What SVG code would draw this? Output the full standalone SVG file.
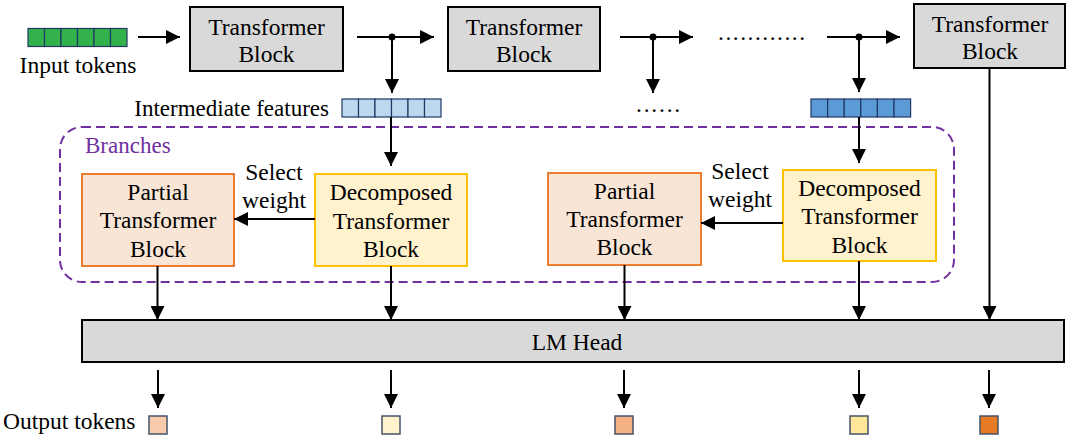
<svg xmlns="http://www.w3.org/2000/svg" width="1080" height="446" viewBox="0 0 1080 446">
<defs>
<marker id="ah" viewBox="0 0 14 14" refX="14" refY="7" markerWidth="14" markerHeight="14" markerUnits="userSpaceOnUse" orient="auto">
<path d="M0,0 L14,7 L0,14 z" fill="#000"/>
</marker>
<style>
text{font-family:"Liberation Serif","Times New Roman",serif;font-size:23.5px;fill:#000}
.c{text-anchor:middle}
.tb{fill:#d9d9d9;stroke:#000;stroke-width:2}
.pb{fill:#f8e5d6;stroke:#ed7d31;stroke-width:2}
.db{fill:#fff2cc;stroke:#ffc000;stroke-width:2}
.ln{stroke:#000;stroke-width:2;fill:none}
.ar{stroke:#000;stroke-width:2;fill:none;marker-end:url(#ah)}
.cell{stroke:#203864;stroke-width:1.2}
.sq{stroke:#44546a;stroke-width:1.5}
</style>
</defs>
<rect width="1080" height="446" fill="#fff"/>

<g id="input-tokens">
<g class="cell" fill="#33b14b">
<rect x="28" y="28.5" width="16.5" height="18"/><rect x="44.5" y="28.5" width="16.5" height="18"/><rect x="61" y="28.5" width="16.5" height="18"/><rect x="77.5" y="28.5" width="16.5" height="18"/><rect x="94" y="28.5" width="16.5" height="18"/><rect x="110.5" y="28.5" width="16.5" height="18"/>
</g>
<text x="78" y="73" class="c">Input tokens</text>
</g>

<g id="tb1"><rect class="tb" x="190" y="7" width="153" height="64"/><text x="266.5" y="34.5" class="c">Transformer</text><text x="266.5" y="62" class="c">Block</text></g>
<g id="tb2"><rect class="tb" x="448" y="7" width="152" height="64"/><text x="524" y="34.5" class="c">Transformer</text><text x="524" y="62" class="c">Block</text></g>
<g id="tb3"><rect class="tb" x="914" y="4" width="151" height="64"/><text x="990" y="31.5" class="c">Transformer</text><text x="990" y="58.5" class="c">Block</text></g>

<g id="dots">
<text x="718" y="40" letter-spacing="1.5">............</text>
<text x="636" y="112" letter-spacing="1.8">......</text>
</g>

<g id="features1">
<text x="329" y="116" text-anchor="end" style="font-size:23px">Intermediate features</text>
<g class="cell" fill="#bdd7ee">
<rect x="342" y="99" width="16.5" height="18"/><rect x="358.5" y="99" width="16.5" height="18"/><rect x="375" y="99" width="16.5" height="18"/><rect x="391.5" y="99" width="16.5" height="18"/><rect x="408" y="99" width="16.5" height="18"/><rect x="424.5" y="99" width="16.5" height="18"/>
</g>
</g>
<g id="features2">
<g class="cell" fill="#5b9bd5">
<rect x="811" y="99" width="16.6" height="18"/><rect x="827.6" y="99" width="16.6" height="18"/><rect x="844.2" y="99" width="16.6" height="18"/><rect x="860.8" y="99" width="16.6" height="18"/><rect x="877.4" y="99" width="16.6" height="18"/><rect x="894" y="99" width="16.6" height="18"/>
</g>
</g>

<g id="branches">
<rect x="60" y="127" width="894" height="155" rx="22" ry="22" fill="none" stroke="#7030a0" stroke-width="2" stroke-dasharray="9,5"/>
<text x="85" y="153" style="fill:#7030a0;font-size:23px">Branches</text>
</g>

<g id="partial1"><rect class="pb" x="82" y="174" width="152" height="92"/><text x="158" y="199.5" class="c">Partial</text><text x="158" y="228" class="c">Transformer</text><text x="158" y="256.5" class="c">Block</text></g>
<g id="decomp1"><rect class="db" x="315" y="174" width="152" height="92"/><text x="391" y="200" class="c">Decomposed</text><text x="391" y="228.5" class="c">Transformer</text><text x="391" y="257" class="c">Block</text></g>
<g id="partial2"><rect class="pb" x="548" y="173" width="153" height="92"/><text x="624.5" y="198.5" class="c">Partial</text><text x="624.5" y="227" class="c">Transformer</text><text x="624.5" y="255" class="c">Block</text></g>
<g id="decomp2"><rect class="db" x="783" y="170" width="153" height="91"/><text x="859.5" y="195.5" class="c">Decomposed</text><text x="859.5" y="224" class="c">Transformer</text><text x="859.5" y="252.5" class="c">Block</text></g>

<g id="sel1"><text x="274" y="179.5" class="c">Select</text><text x="274" y="207.5" class="c">weight</text></g>
<g id="sel2"><text x="740" y="178.5" class="c">Select</text><text x="740" y="206.5" class="c">weight</text></g>

<g id="lmhead"><rect class="tb" x="82" y="320" width="982" height="42"/><text x="577" y="350" class="c">LM Head</text></g>

<g id="outputs">
<text x="3" y="429">Output tokens</text>
<rect class="sq" x="149" y="416" width="18" height="18" fill="#f8cbad"/>
<rect class="sq" x="382" y="416" width="18" height="18" fill="#fff2cc"/>
<rect class="sq" x="615" y="416" width="18" height="18" fill="#f4b183"/>
<rect class="sq" x="850" y="416" width="18" height="18" fill="#ffe699"/>
<rect class="sq" x="980" y="416" width="18" height="18" fill="#e57b24"/>
</g>

<g id="connectors">
<line class="ar" x1="138" y1="37" x2="180" y2="37"/>
<line class="ar" x1="357" y1="37" x2="434" y2="37"/>
<circle cx="392" cy="37" r="3.5" fill="#000"/>
<line class="ar" x1="392" y1="37" x2="392" y2="93"/>
<line class="ar" x1="620" y1="37" x2="693" y2="37"/>
<circle cx="653" cy="37" r="3.5" fill="#000"/>
<line class="ar" x1="653" y1="37" x2="653" y2="93"/>
<line class="ar" x1="827" y1="37" x2="900" y2="37"/>
<circle cx="859" cy="37" r="3.5" fill="#000"/>
<line class="ar" x1="859" y1="37" x2="859" y2="92"/>
<line class="ar" x1="989.5" y1="68" x2="989.5" y2="320"/>
<line class="ar" x1="391" y1="117" x2="391" y2="166"/>
<line class="ar" x1="859" y1="117" x2="859" y2="163"/>
<line class="ar" x1="315" y1="219" x2="234" y2="219"/>
<line class="ar" x1="783" y1="223" x2="701" y2="223"/>
<line class="ar" x1="157.5" y1="266" x2="157.5" y2="320"/>
<line class="ar" x1="391" y1="266" x2="391" y2="320"/>
<line class="ar" x1="624.5" y1="265" x2="624.5" y2="320"/>
<line class="ar" x1="859" y1="261" x2="859" y2="320"/>
<line class="ar" x1="158" y1="370" x2="158" y2="408"/>
<line class="ar" x1="391" y1="370" x2="391" y2="408"/>
<line class="ar" x1="624" y1="370" x2="624" y2="408"/>
<line class="ar" x1="859" y1="370" x2="859" y2="408"/>
<line class="ar" x1="989" y1="370" x2="989" y2="408"/>
</g>
</svg>
